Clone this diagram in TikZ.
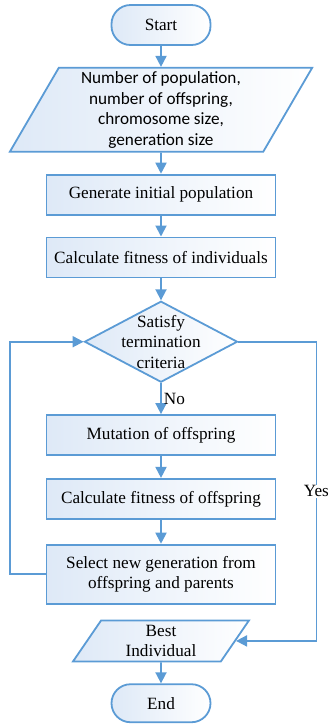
\documentclass[tikz,border=0pt]{standalone}
\usepackage{fontspec}
\setmainfont{Liberation Serif}
\newfontfamily\calibrifont{Carlito}
\usetikzlibrary{shapes.geometric, positioning, arrows.meta}
\definecolor{flowblue}{RGB}{91,155,213}
\definecolor{flowfill}{RGB}{222,233,247}

\begin{document}
\begin{tikzpicture}[
    % Most blocks are 21pt apart
    node distance=21pt,
    font=\fontsize{17.2pt}{20.5pt}\selectfont,
    base/.style={draw=flowblue, line width=1.8pt, left color=flowfill, right color=white, align=center},
    box/.style={base, rectangle, minimum width=229pt, minimum height=40pt},
    term/.style={base, rectangle, rounded corners=19pt, minimum width=99pt, minimum height=40pt},
    io/.style={base, trapezium, trapezium left angle=64, trapezium right angle=116, trapezium stretches=true, inner sep=2pt},
    decision/.style={base, diamond, minimum width=153pt, minimum height=81pt, inner sep=0pt},
    arrow/.style={-{Triangle[width=11pt,length=11pt]}, draw=flowblue, line width=1.8pt}
]
    \useasboundingbox (0pt,0pt) rectangle (329pt,-724pt);

    \node[term] (start) at (161pt,-25pt) {Start};
    \node[io, minimum width=303pt, minimum height=84pt, font=\calibrifont\fontsize{17.2pt}{20.5pt}\selectfont] (inp) [below=of start]
        {Number of population,\\ number of offspring,\\ chromosome size,\\ generation size};
    \node[box] (gen) [below=of inp] {Generate initial population};
    \node[box] (fit) [below=of gen] {Calculate fitness of individuals};
    \node[decision, label={[align=center]center:Satisfy\\ termination\\ criteria}] (dec) [below=22pt of fit] {};
    \node[box] (mut) [below=31pt of dec] {Mutation of offspring};
    \node[box] (off) [below=22pt of mut] {Calculate fitness of offspring};
    \node[box, minimum height=59pt] (sel) [below=24pt of off] {Select new generation from\\ offspring and parents};
    \node[io, minimum width=176pt, minimum height=41pt] (best) [below=15pt of sel] {Best\\ Individual};
    \node[term, minimum height=38pt] (end) [below=of best] {End};

    \draw[arrow] (start) -- (inp);
    \draw[arrow] (inp) -- (gen);
    \draw[arrow] (gen) -- (fit);
    \draw[arrow] (fit) -- (dec);
    \draw[arrow] (dec) -- node[midway, right, inner sep=2pt] {No} (mut);
    \draw[arrow] (mut) -- (off);
    \draw[arrow] (off) -- (sel);
    \draw[arrow] (best) -- (end);

    \draw[arrow] (sel.west) -- ++(-36pt,0) |- (dec.west);
    \draw[arrow] (dec.east) -- ++(78pt,0) |- node[pos=0.25, fill=white, inner sep=1pt] {Yes} (best.east);
\end{tikzpicture}
\end{document}
